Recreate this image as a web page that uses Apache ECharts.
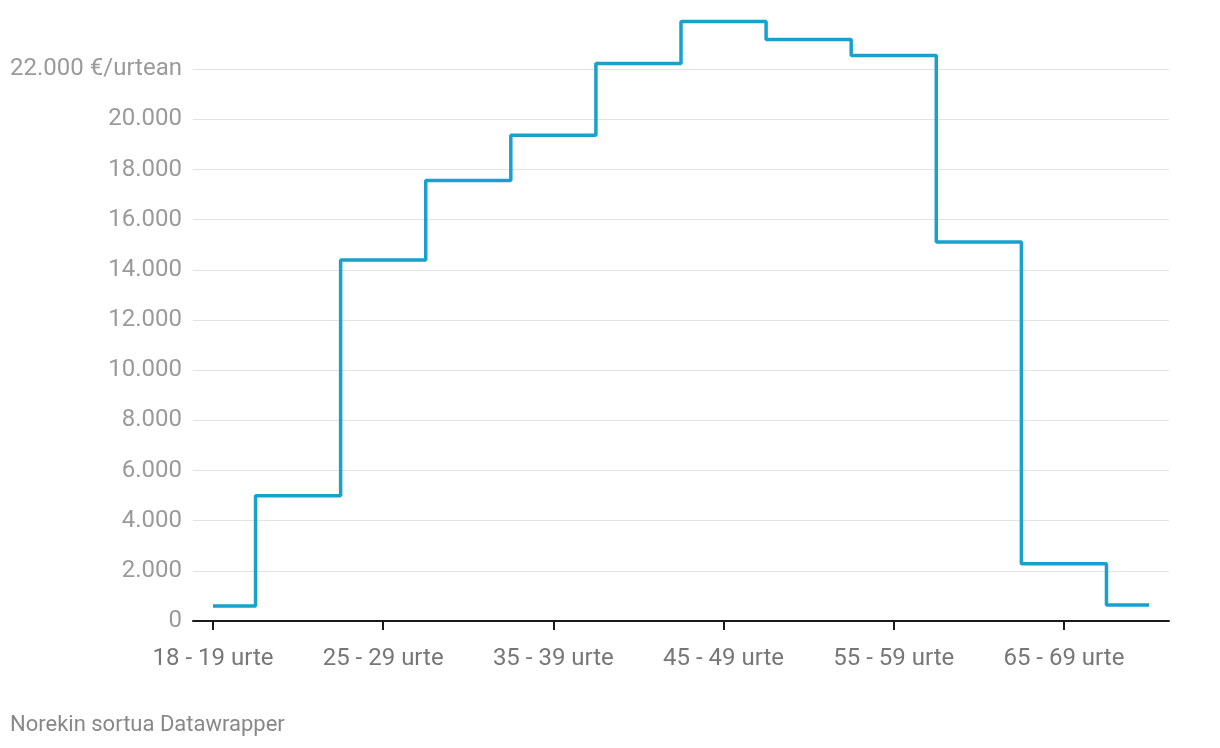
<!DOCTYPE html>
<html>
<head>
<meta charset="utf-8">
<script src="https://cdn.jsdelivr.net/npm/echarts@6/dist/echarts.min.js"></script>
<style>
html,body{margin:0;padding:0;background:#fff;}
#chart{width:1220px;height:748px;}
</style>
</head>
<body>
<div id="chart"></div>
<script>
const categories = ['18 - 19 urte','20 - 24 urte','25 - 29 urte','30 - 34 urte','35 - 39 urte','40 - 44 urte','45 - 49 urte','50 - 54 urte','55 - 59 urte','60 - 64 urte','65 - 69 urte','70 - 74 urte'];
const values = [600, 4990, 14390, 17560, 19370, 22230, 23900, 23180, 22540, 15110, 2280, 640];
const yTicks = [0, 2000, 4000, 6000, 8000, 10000, 12000, 14000, 16000, 18000, 20000, 22000];
const xTickIdx = [0, 2, 4, 6, 8, 10];

const chart = echarts.init(document.getElementById('chart'));
const fmt = v => String(v).replace(/\B(?=(\d{3})+(?!\d))/g, '.');
chart.setOption({
  animation: false,
  textStyle: {fontFamily: 'Roboto'},
  grid: {left: 193, right: 51, top: 19, bottom: 127, containLabel: false},
  xAxis: {
    type: 'value',
    min: -0.235, max: 11.235,
    axisLine: {show: true, lineStyle: {color: '#1a1a1a', width: 2}},
    axisTick: {show: true, customValues: xTickIdx, length: 9, lineStyle: {color: '#1a1a1a', width: 2}},
    axisLabel: {customValues: xTickIdx, formatter: v => categories[Math.round(v)], color: '#777777', fontSize: 24, margin: 26, fontFamily: 'Roboto'},
    splitLine: {show: false}
  },
  yAxis: {
    type: 'value',
    min: 0, max: 24000, interval: 2000,
    axisLine: {show: false},
    axisTick: {show: false, customValues: yTicks},
    axisLabel: {customValues: yTicks, color: '#9a9a9a', fontSize: 24, margin: 11, fontFamily: 'Roboto', padding: [4, 0, 0, 0],
      formatter: v => v === 22000 ? fmt(v) + ' €/urtean' : fmt(v)},
    splitLine: {show: true, lineStyle: {color: '#e3e3e3', width: 1}}
  },
  series: [{
    type: 'line',
    step: 'middle',
    data: values.map((v, i) => [i, v]),
    showSymbol: false,
    lineStyle: {color: '#18a1cd', width: 3.5},
    itemStyle: {color: '#18a1cd'}
  }],
  graphic: [{
    type: 'text', left: 10, top: 714,
    style: {text: 'Norekin sortua Datawrapper', fill: '#888888', fontSize: 22, fontFamily: 'Roboto'}
  }]
});
</script>
</body>
</html>
